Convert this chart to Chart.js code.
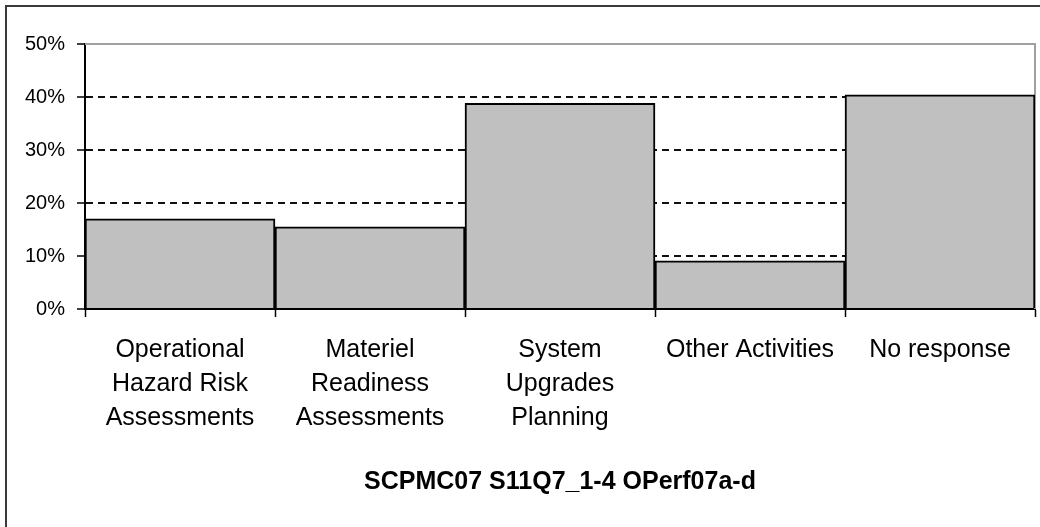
<!DOCTYPE html>
<html>
<head>
<meta charset="utf-8">
<title>SCPMC07 S11Q7_1-4 OPerf07a-d</title>
<script src="https://cdn.jsdelivr.net/npm/chart.js@4"></script>
<style>
  html, body { margin: 0; padding: 0; background: #fff; }
  #wrap { position: relative; width: 1040px; height: 527px; overflow: hidden; }
  #frame {
    position: absolute; left: 5px; top: 5px; width: 1100px; height: 600px;
    border-left: 2px solid #3a3a3a; border-top: 2px solid #3a3a3a;
  }
  #chart { position: absolute; left: 0; top: 0; }
</style>
</head>
<body>
<div id="wrap">
  <div id="frame"></div>
  <canvas id="chart" width="1040" height="527"></canvas>
</div>
<script>
const categories = [
  ["Operational", "Hazard Risk", "Assessments"],
  ["Materiel", "Readiness", "Assessments"],
  ["System", "Upgrades", "Planning"],
  "Other Activities",
  "No response",
];
const shares = [17.0, 15.5, 38.8, 9.1, 40.4];
const yTicks = [0, 10, 20, 30, 40, 50];
const chartTitle = "SCPMC07 S11Q7_1-4 OPerf07a-d";

const FONT = "'Liberation Sans', Arial, sans-serif";

// gray frame on top and right of the plot area, like the Excel plot border
const plotBorder = {
  id: "plotBorder",
  beforeDatasetsDraw(chart) {
    const { ctx, chartArea } = chart;
    ctx.save();
    ctx.strokeStyle = "#a0a0a0";
    ctx.lineWidth = 2;
    ctx.beginPath();
    ctx.moveTo(chartArea.left, chartArea.top);
    ctx.lineTo(chartArea.right, chartArea.top);
    ctx.lineTo(chartArea.right, chartArea.bottom);
    ctx.stroke();
    ctx.restore();
  },
};

new Chart(document.getElementById("chart"), {
  type: "bar",
  data: {
    labels: categories,
    datasets: [
      {
        data: shares,
        backgroundColor: "#c0c0c0",
        borderColor: "#000",
        borderWidth: 2,
        categoryPercentage: 1,
        barPercentage: 1,
      },
    ],
  },
  options: {
    responsive: false,
    animation: false,
    events: [],
    layout: { padding: { top: 44, right: 5, bottom: 0, left: 0 } },
    plugins: {
      legend: { display: false },
      tooltip: { enabled: false },
    },
    scales: {
      x: {
        grid: {
          display: true,
          offset: true,
          drawOnChartArea: false,
          drawTicks: true,
          tickLength: 8,
          tickColor: "#000",
          tickWidth: 1.5,
        },
        border: { display: true, color: "#000", width: 2 },
        ticks: {
          color: "#000",
          font: { family: FONT, size: 25, lineHeight: 1.36 },
          padding: 16,
          autoSkip: false,
          maxRotation: 0,
          minRotation: 0,
        },
        title: {
          display: true,
          text: chartTitle,
          color: "#000",
          font: { family: FONT, size: 25, weight: "bold", lineHeight: 1.2 },
          padding: { top: 16, bottom: 30 },
        },
      },
      y: {
        min: 0,
        max: 50,
        afterBuildTicks(scale) {
          scale.ticks = yTicks.map((v) => ({ value: v }));
        },
        afterFit(scale) {
          scale.width = 85;
        },
        grid: {
          color: (ctx) => (ctx.tick && (ctx.tick.value === 0 || ctx.tick.value === 50) ? "rgba(0,0,0,0)" : "#111"),
          lineWidth: 2,
          drawTicks: true,
          tickLength: 8,
          tickColor: "#000",
          tickWidth: 1.5,
        },
        border: { display: true, color: "#000", width: 2, dash: [7, 5] },
        ticks: {
          color: "#000",
          font: { family: FONT, size: 20 },
          padding: 12,
          callback: (v) => `${v}%`,
        },
      },
    },
  },
  plugins: [plotBorder],
});
</script>
</body>
</html>
